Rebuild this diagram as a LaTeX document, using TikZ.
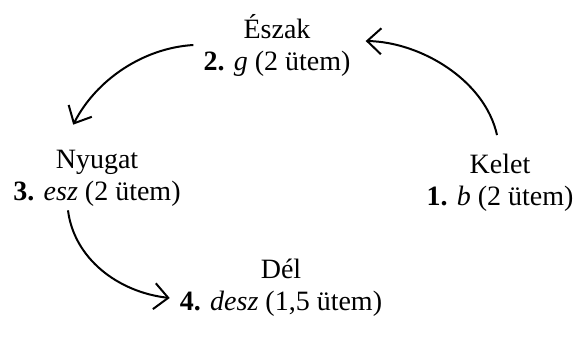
\documentclass[tikz,border=0pt]{standalone}
\usepackage{fontspec}
\setmainfont{Liberation Serif}
\usetikzlibrary{arrows.meta}
\begin{document}
\begin{tikzpicture}[x=1pt,y=-1pt,
  lbl/.style={align=center,inner sep=0pt,font=\fontsize{28}{32}\selectfont},
  conn/.style={line width=2pt,-{Straight Barb[length=14pt,width=26pt,line width=2pt]}}]
\useasboundingbox (0,0) rectangle (579,341);
\node[lbl] (eszak) at (277,45) {Észak\\\textbf{2.} \textit{g} (2 ütem)};
\node[lbl] (kelet) at (500,183) {Kelet\\\textbf{1.} \textit{b} (2 ütem)};
\node[lbl] (nyugat) at (97,178) {Nyugat\\\textbf{3.} \textit{esz} (2 ütem)};
\node[lbl] (del) at (281,288) {Dél\\\textbf{4.} \textit{desz} (1,5 ütem)};
\draw[conn] ([xshift=-3pt,yshift=19pt]kelet.north) .. controls +(-12,-55) and +(55,1) .. ([xshift=15pt,yshift=4pt]eszak.east);
\draw[conn] ([xshift=-10pt]eszak.west) .. controls +(-50,3) and +(23,-45) .. ([xshift=60pt,yshift=25pt]nyugat.north west);
\draw[conn] ([xshift=-29pt,yshift=-4pt]nyugat.south) .. controls +(6,48) and +(-52,-6) .. ([xshift=-10pt,yshift=-10pt]del.west);
\end{tikzpicture}
\end{document}
